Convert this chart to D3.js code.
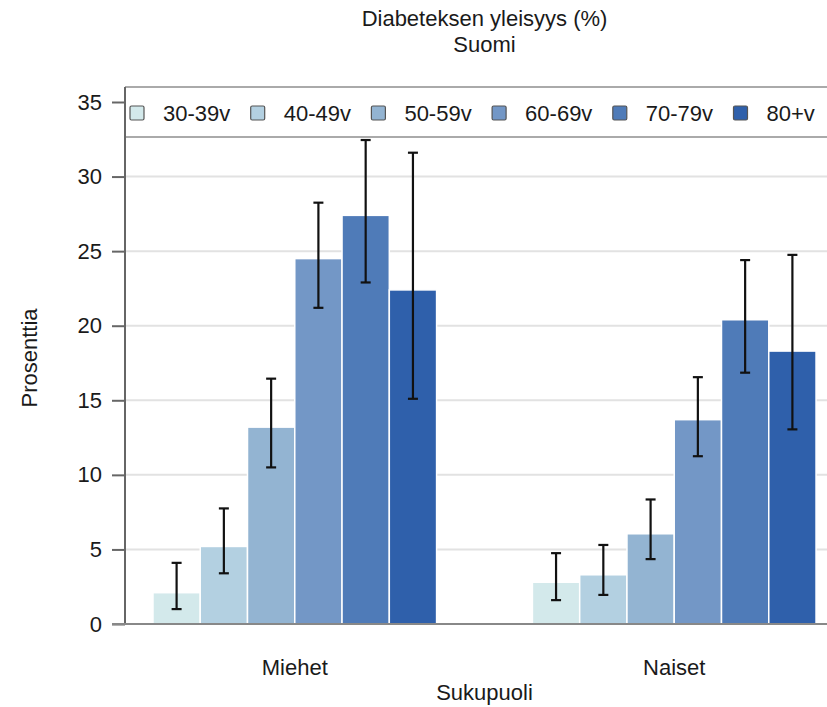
<!DOCTYPE html>
<html>
<head>
    <meta charset="utf-8">
    <style>
        body { margin: 0; background: #fff; }
        svg { display: block; font-family: 'Liberation Sans', Arial, sans-serif; }
        .y .domain { display: none; }
        .y .tick line { stroke: #666; stroke-width: 2; }
        .y .tick text { font-size: 22px; fill: #1a1a1a; }
    </style>
</head>
<body>
<svg width="827" height="707"></svg>

<script src="https://d3js.org/d3.v7.min.js"></script>
<script>
    // data
    let groups = ["Miehet", "Naiset"]
    let ages = ["30-39v", "40-49v", "50-59v", "60-69v", "70-79v", "80+v"]
    let colors = ["#d3e9eb", "#b3d0e1", "#93b4d2", "#7397c6", "#4f7bb8", "#2f60ab"]

    let miehetVal = [2.1, 5.2, 13.2, 24.5, 27.4, 22.4]
    let miehetLow = [1.0, 3.4, 10.5, 21.2, 22.9, 15.1]
    let miehetHigh = [4.1, 7.75, 16.45, 28.25, 32.45, 31.6]

    let naisetVal = [2.8, 3.3, 6.05, 13.7, 20.4, 18.3]
    let naisetLow = [1.6, 1.95, 4.35, 11.25, 16.85, 13.05]
    let naisetHigh = [4.75, 5.3, 8.35, 16.55, 24.4, 24.75]

    let yTicks = [0, 5, 10, 15, 20, 25, 30, 35]

    let rows = []
    groups.forEach((g, gi) => {
        let v = gi == 0 ? miehetVal : naisetVal
        let lo = gi == 0 ? miehetLow : naisetLow
        let hi = gi == 0 ? miehetHigh : naisetHigh
        ages.forEach((a, i) => rows.push({ group: g, age: a, value: v[i], low: lo[i], high: hi[i] }))
    })

    let svg = d3.select("svg")
    let margin = { top: 87, left: 125, bottom: 83 }
    let plotRight = 844   // plot area runs past the right edge of the picture
    let height = 707

    let x0 = d3.scaleBand()
        .domain(groups)
        .range([margin.left, plotRight])
        .paddingInner(0.2526)
        .paddingOuter(0.0737)

    let x1 = d3.scaleBand()
        .domain(ages)
        .range([0, x0.bandwidth()])

    let y = d3.scaleLinear()
        .domain([0, 35])
        .range([height - margin.bottom, 102])

    let color = d3.scaleOrdinal().domain(ages).range(colors)

    // gridlines
    svg.append("g")
        .selectAll("line")
        .data(yTicks.filter(d => d > 0))
        .join("line")
        .attr("x1", margin.left)
        .attr("x2", plotRight)
        .attr("y1", d => y(d))
        .attr("y2", d => y(d))
        .attr("stroke", "#e2e2e2")
        .attr("stroke-width", 2)

    // bars
    svg.append("g")
        .selectAll("rect")
        .data(rows)
        .join("rect")
        .attr("x", d => x0(d.group) + x1(d.age))
        .attr("y", d => y(d.value))
        .attr("width", x1.bandwidth())
        .attr("height", d => y(0) - y(d.value))
        .attr("fill", d => color(d.age))
        .attr("stroke", "white")
        .attr("stroke-width", 1.5)

    // error bars
    let err = svg.append("g")
        .selectAll("g")
        .data(rows)
        .join("g")
        .attr("stroke", "#111")
        .attr("stroke-width", 2.2)

    let cx = d => x0(d.group) + x1(d.age) + x1.bandwidth() / 2
    err.append("line")
        .attr("x1", cx).attr("x2", cx)
        .attr("y1", d => y(d.low)).attr("y2", d => y(d.high))
    err.append("line")
        .attr("x1", d => cx(d) - 5).attr("x2", d => cx(d) + 5)
        .attr("y1", d => y(d.high)).attr("y2", d => y(d.high))
    err.append("line")
        .attr("x1", d => cx(d) - 5).attr("x2", d => cx(d) + 5)
        .attr("y1", d => y(d.low)).attr("y2", d => y(d.low))

    // legend strip on top of the plot
    let legendBottom = 137
    svg.append("rect")
        .attr("x", margin.left)
        .attr("y", margin.top)
        .attr("width", plotRight - margin.left)
        .attr("height", legendBottom - margin.top)
        .attr("fill", "white")
    svg.append("line")
        .attr("x1", margin.left).attr("x2", plotRight)
        .attr("y1", margin.top).attr("y2", margin.top)
        .attr("stroke", "#aaa").attr("stroke-width", 2)
    svg.append("line")
        .attr("x1", margin.left).attr("x2", plotRight)
        .attr("y1", legendBottom).attr("y2", legendBottom)
        .attr("stroke", "#aaa").attr("stroke-width", 2)

    let legend = svg.append("g")
        .selectAll("g")
        .data(ages)
        .join("g")
        .attr("transform", (d, i) => `translate(${130 + i * 120.7},106)`)

    legend.append("rect")
        .attr("width", 14).attr("height", 14)
        .attr("rx", 1.5)
        .attr("fill", d => color(d))
        .attr("stroke", "#555")
        .attr("stroke-width", 1.2)

    legend.append("text")
        .attr("x", 33)
        .attr("y", 15)
        .attr("font-size", "22px")
        .attr("fill", "#1a1a1a")
        .text(d => d)

    // y axis
    svg.append("g")
        .attr("class", "y")
        .attr("transform", `translate(${margin.left},0)`)
        .call(d3.axisLeft(y).tickValues(yTicks).tickSize(13).tickPadding(10))

    svg.append("line")
        .attr("x1", margin.left).attr("x2", margin.left)
        .attr("y1", margin.top).attr("y2", y(0))
        .attr("stroke", "#666").attr("stroke-width", 2)

    // bottom axis line
    svg.append("line")
        .attr("x1", 112).attr("x2", plotRight)
        .attr("y1", y(0)).attr("y2", y(0))
        .attr("stroke", "#888").attr("stroke-width", 2)

    // group labels
    svg.append("g")
        .selectAll("text")
        .data(groups)
        .join("text")
        .attr("x", d => x0(d) + x0.bandwidth() / 2)
        .attr("y", 675)
        .attr("text-anchor", "middle")
        .attr("font-size", "22px")
        .attr("fill", "#1a1a1a")
        .text(d => d)

    let mid = (margin.left + plotRight) / 2

    svg.append("text")
        .attr("x", mid).attr("y", 700)
        .attr("text-anchor", "middle")
        .attr("font-size", "22px")
        .attr("fill", "#1a1a1a")
        .text("Sukupuoli")

    svg.append("text")
        .attr("transform", `translate(37,358) rotate(-90)`)
        .attr("text-anchor", "middle")
        .attr("font-size", "22px")
        .attr("fill", "#1a1a1a")
        .text("Prosenttia")

    svg.append("text")
        .attr("x", mid).attr("y", 26)
        .attr("text-anchor", "middle")
        .attr("font-size", "22px")
        .attr("fill", "#1a1a1a")
        .text("Diabeteksen yleisyys (%)")

    svg.append("text")
        .attr("x", mid).attr("y", 52)
        .attr("text-anchor", "middle")
        .attr("font-size", "22px")
        .attr("fill", "#1a1a1a")
        .text("Suomi")
</script>
</body>
</html>
